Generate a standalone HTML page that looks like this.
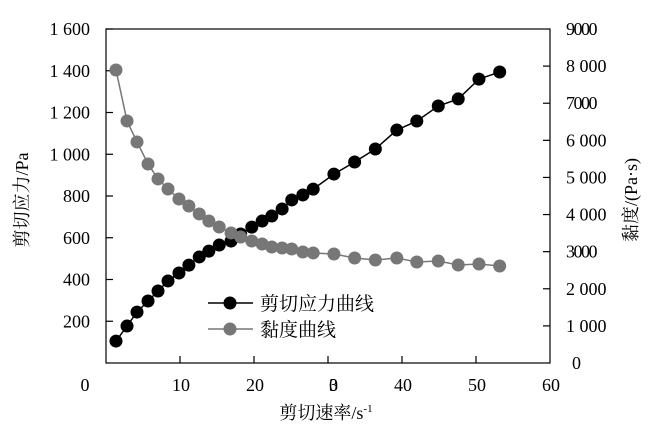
<!DOCTYPE html>
<html><head><meta charset="utf-8"><style>
html,body{margin:0;padding:0;background:#fff;}
svg{display:block;}
svg text{font-family:"Liberation Serif","Noto Serif CJK SC","Noto Sans CJK SC",serif;}
</style></head><body>
<svg id="chart" width="657" height="431" viewBox="0 0 657 431" xmlns="http://www.w3.org/2000/svg">
<rect x="106" y="29" width="444" height="334" fill="none" stroke="#000" stroke-width="1.2"/>
<g id="axes"></g>
<g id="series"></g>
<text transform="translate(28,200) rotate(-90)" text-anchor="middle" font-size="18">剪切应力/Pa</text>
<text transform="translate(637,200) rotate(-90)" text-anchor="middle" font-size="18">黏度/(Pa·s)</text>
<text x="326" y="419" text-anchor="middle" font-size="18">剪切速率/s<tspan font-size="11" dy="-7">-1</tspan></text>
<g>
<line x1="208" y1="303" x2="253" y2="303" stroke="#000" stroke-width="1.5"/>
<circle cx="230" cy="303" r="6.5" fill="#000"/>
<text x="260" y="310" font-size="19">剪切应力曲线</text>
<line x1="208" y1="329" x2="253" y2="329" stroke="#777" stroke-width="1.5"/>
<circle cx="230" cy="329" r="6.5" fill="#777"/>
<text x="260" y="336" font-size="19">黏度曲线</text>
</g>
</svg>
<script>
const shearRate=[1.35,2.84,4.19,5.68,7.03,8.38,9.86,11.2,12.6,13.9,15.3,16.9,18.2,19.7,21.1,22.4,23.8,25.1,26.6,28.0,30.8,33.6,36.4,39.3,42.0,44.9,47.6,50.4,53.2];
const stress=[105,177,244,297,345,393,431,469,508,536,565,584,618,651,680,704,738,781,805,833,905,963,1025,1116,1159,1231,1265,1360,1394];
const viscosity=[7896,6522,5956,5363,4959,4689,4420,4231,4016,3827,3665,3504,3396,3288,3207,3126,3099,3072,2991,2965,2938,2830,2776,2830,2722,2749,2641,2668,2614];
const xTickLabels=["0","10","20","30","40","50","60"];
const yTickLabels=["200","400","600","800","1 000","1 200","1 400","1 600"];
const y2TickLabels=["0","1 000","2 000","3000","4 000","5 000","6 000","7000","8 000","9000"];
const NS="http://www.w3.org/2000/svg";
const X=v=>106+v*(444/60);
const Y=v=>363-v*(334/1600);
const Y2=v=>363-v*(334/9000);
const axes=document.getElementById('axes');
const series=document.getElementById('series');
function mk(tag,attrs,parent){const e=document.createElementNS(NS,tag);for(const k in attrs)e.setAttribute(k,attrs[k]);parent.appendChild(e);return e;}
xTickLabels.forEach((t,i)=>{
  const v=i*10;
  if(i>0&&i<6){const l=mk('line',{x1:X(v),x2:X(v),y1:363,y2:356,stroke:'#000','stroke-width':1.2},axes);
  
  }
  const tx=mk('text',{x:i===0?85:X(v)+1,y:391,'text-anchor':'middle','font-size':18},axes);
  
  
  tx.textContent=t;
  if(t==="30")tx.setAttribute('letter-spacing','-9');
});
yTickLabels.forEach((t,i)=>{
  const v=(i+1)*200;
  const l=mk('line',{x1:106,x2:113,y1:Y(v),y2:Y(v),stroke:'#000','stroke-width':1.2},axes);
  
  
  const tx=mk('text',{x:90,y:Y(v)+6,'text-anchor':'end','font-size':18},axes);
  
  
  tx.textContent=t;
});
y2TickLabels.forEach((t,i)=>{
  const v=i*1000;
  if(i>0&&i<9){const l=mk('line',{x1:543,x2:550,y1:Y2(v),y2:Y2(v),stroke:'#000','stroke-width':1.2},axes);
  
  }
  const tx=mk('text',{x:i===0?572:566,y:Y2(v)+6,'text-anchor':'start','font-size':18},axes);
  
  
  tx.textContent=t;
  if(t.length===4&&t.indexOf(' ')<0)tx.setAttribute('letter-spacing','-1.5');
});
function draw(vals,yf,color,name){
  const pts=shearRate.map((x,i)=>X(x)+','+yf(vals[i])).join(' ');
  const pl=mk('polyline',{points:pts,fill:'none',stroke:color,'stroke-width':1.5},series);
  
  
  shearRate.forEach((x,i)=>{
    const c=mk('circle',{cx:X(x),cy:yf(vals[i]),r:6.5,fill:color},series);
    
    
  });
}
draw(stress,Y,'#000','stress');
draw(viscosity,Y2,'#777','viscosity');
</script>
</body></html>
